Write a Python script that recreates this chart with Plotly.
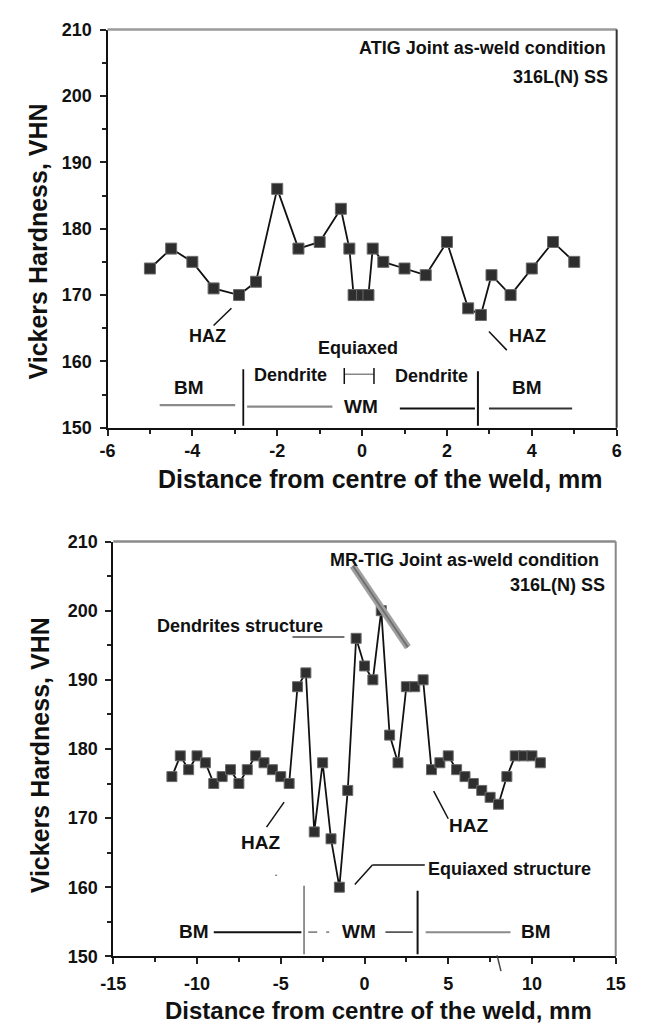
import plotly.graph_objects as go

# ---------------- data ----------------
atig_x = [-5, -4.5, -4, -3.5, -2.9, -2.5, -2, -1.5, -1, -0.5, -0.3, -0.2, 0, 0.15,
          0.25, 0.5, 1, 1.5, 2, 2.5, 2.8, 3.05, 3.5, 4, 4.5, 5]
atig_y = [174, 177, 175, 171, 170, 172, 186, 177, 178, 183, 177, 170, 170, 170,
          177, 175, 174, 173, 178, 168, 167, 173, 170, 174, 178, 175]

mr_x = [-11.5, -11, -10.5, -10, -9.5, -9, -8.5, -8, -7.5, -7, -6.5, -6, -5.5, -5, -4.5,
        -4, -3.5, -3, -2.5, -2, -1.5, -1, -0.5, 0, 0.5, 1, 1.5, 2, 2.5, 3, 3.5,
        4, 4.5, 5, 5.5, 6, 6.5, 7, 7.5, 8, 8.5, 9, 9.5, 10, 10.5]
mr_y = [176, 179, 177, 179, 178, 175, 176, 177, 175, 177, 179, 178, 177, 176, 175,
        189, 191, 168, 178, 167, 160, 174, 196, 192, 190, 200, 182, 178, 189, 189, 190,
        177, 178, 179, 177, 176, 175, 174, 173, 172, 176, 179, 179, 179, 178]

top_xticks = [-6, -4, -2, 0, 2, 4, 6]
top_xticklabels = ["-6", "-4", "-2", "0", "2", "4", "6"]
bot_xticks = [-15, -10, -5, 0, 5, 10, 15]
bot_xticklabels = ["-15", "-10", "-5", "0", "5", "10", "15"]
yticks = [150, 160, 170, 180, 190, 200, 210]
yticklabels = ["150", "160", "170", "180", "190", "200", "210"]

FONT = "Liberation Sans, Arial, sans-serif"
TXT = "#111111"

fig = go.Figure()
marker = dict(symbol="square", size=11, color="#2e2e2e", line=dict(color="#6a6a6a", width=1))
fig.add_trace(go.Scatter(x=atig_x, y=atig_y, mode="lines+markers", xaxis="x", yaxis="y",
                         line=dict(color="#111", width=1.8), marker=marker,
                         cliponaxis=False, showlegend=False))
marker2 = dict(marker, size=10)
fig.add_trace(go.Scatter(x=mr_x, y=mr_y, mode="lines+markers", xaxis="x2", yaxis="y2",
                         line=dict(color="#111", width=1.8), marker=marker2,
                         cliponaxis=False, showlegend=False))


def axis_common():
    return dict(showgrid=False, zeroline=False, showline=True, linecolor="#111", linewidth=2,
                ticks="outside", ticklen=6, tickwidth=1.5, tickcolor="#222",
                tickfont=dict(family=FONT, size=18, color=TXT, weight="bold"))


W, H = 645, 1035
xa = axis_common()
xa.update(domain=[98 / W, 626 / W], anchor="y", range=[-6, 6], tickmode="array",
          tickvals=top_xticks, ticktext=top_xticklabels,
          minor=dict(tickmode="linear", tick0=-6, dtick=1, ticks="outside", ticklen=4,
                     tickcolor="#222", showgrid=False))
ya = axis_common()
ya.update(domain=[1 - 426 / H, 1 - 20 / H], anchor="x", range=[150, 210], tickmode="array",
          tickvals=yticks, ticktext=yticklabels, ticklabelstandoff=4,
          minor=dict(tickmode="linear", tick0=150, dtick=5, ticks="outside", ticklen=4,
                     tickcolor="#222", showgrid=False))
xa2 = axis_common()
xa2.update(domain=[104 / W, 625 / W], anchor="y2", range=[-15, 15], tickmode="array",
           tickvals=bot_xticks, ticktext=bot_xticklabels, ticklabelstandoff=4,
           minor=dict(tickmode="linear", tick0=-15, dtick=2.5, ticks="outside", ticklen=4,
                      tickcolor="#222", showgrid=False))
ya2 = axis_common()
ya2.update(domain=[1 - 965 / H, 1 - 542 / H], anchor="x2", range=[150, 210], tickmode="array",
           tickvals=yticks, ticktext=yticklabels, ticklabelstandoff=4,
           minor=dict(tickmode="linear", tick0=150, dtick=5, ticks="outside", ticklen=4,
                      tickcolor="#222", showgrid=False))

shapes = []


def seg(x0, y0, x1, y1, xr, yr, color="#111", width=1.8, dash=None):
    d = dict(type="line", x0=x0, y0=y0, x1=x1, y1=y1, xref=xr, yref=yr,
             line=dict(color=color, width=width))
    if dash:
        d["line"]["dash"] = dash
    shapes.append(d)


# frame top / right
seg(0, 1, 1, 1, "x domain", "y domain", "#9a9a9a", 2.5)
seg(1, 0, 1, 1, "x domain", "y domain", "#333", 2)
seg(0, 1, 1, 1, "x2 domain", "y2 domain", "#8a8a8a", 2.5)
seg(1, 0, 1, 1, "x2 domain", "y2 domain", "#888", 2)

# ---- top plot annotation lines ----
seg(-3.08, 168.0, -3.5, 165.4, "x", "y", "#111", 1.5)
seg(2.99, 164.5, 3.41, 161.7, "x", "y", "#111", 1.5)
seg(-0.42, 158.05, 0.28, 158.05, "x", "y", "#888", 1.5)
seg(-0.42, 159.0, -0.42, 156.6, "x", "y", "#111", 1.5)
seg(0.28, 159.0, 0.28, 156.6, "x", "y", "#111", 1.5)
seg(-4.77, 153.4, -2.99, 153.4, "x", "y", "#8a8a8a", 2.2)
seg(-2.71, 153.2, -0.70, 153.2, "x", "y", "#8a8a8a", 2.2)
seg(0.89, 152.9, 2.66, 152.9, "x", "y", "#111", 1.8)
seg(2.99, 152.9, 4.95, 152.9, "x", "y", "#333", 1.8)
seg(-2.80, 158.8, -2.80, 150.3, "x", "y", "#111", 1.8)
seg(2.73, 158.5, 2.73, 150.3, "x", "y", "#111", 2)

# ---- bottom plot annotation lines ----
seg(-0.7, 206.5, 2.59, 194.7, "x2", "y2", "#a0a0a0", 7)
seg(-0.7, 206.5, 2.59, 194.7, "x2", "y2", "#707070", 2)
seg(-4.3, 196.2, -1.2, 196.2, "x2", "y2", "#444", 1.5)
seg(3.6, 163.2, 0.47, 163.2, "x2", "y2", "#111", 1.5)
seg(0.47, 163.2, -0.58, 160.4, "x2", "y2", "#111", 1.5)
seg(-5.85, 168.7, -4.8, 172.3, "x2", "y2", "#111", 1.5)
seg(4.13, 173.9, 5.0, 169.9, "x2", "y2", "#111", 1.5)
seg(-9.0, 153.5, -3.77, 153.5, "x2", "y2", "#111", 2)
seg(-3.61, 160.2, -3.61, 150.3, "x2", "y2", "#777", 1.6)
seg(-3.36, 153.5, -2.11, 153.5, "x2", "y2", "#888", 1.8, "dash")
seg(1.25, 153.5, 2.88, 153.5, "x2", "y2", "#555", 1.8)
seg(3.17, 159.5, 3.17, 150.3, "x2", "y2", "#111", 2)
seg(3.65, 153.5, 8.72, 153.5, "x2", "y2", "#8a8a8a", 2)
# small scan mark below the bottom axis
shapes.append(dict(type="line", xref="paper", yref="paper", x0=502 / W, y0=1 - 964 / H,
                   x1=506 / W, y1=1 - 980 / H, line=dict(color="#444", width=1.5)))

ann = []


def txt(x, y, s, xr, yr, size=19, xanchor="center", color=TXT, angle=0, bold=True):
    f = dict(family=FONT, size=size, color=color)
    if bold:
        f["weight"] = "bold"
    ann.append(dict(x=x, y=y, text=s, xref=xr, yref=yr, showarrow=False, xanchor=xanchor,
                    yanchor="middle", textangle=angle, font=f))


# top plot texts
txt(5.8, 207.3, "ATIG Joint as-weld condition", "x", "y", 18, "right")
txt(5.84, 202.9, "316L(N) SS", "x", "y", 18, "right")
txt(-3.64, 163.9, "HAZ", "x", "y", 18)
txt(3.91, 163.9, "HAZ", "x", "y", 18)
txt(-0.09, 162.0, "Equiaxed", "x", "y", 18)
txt(-1.68, 157.9, "Dendrite", "x", "y", 18)
txt(1.64, 157.8, "Dendrite", "x", "y", 18)
txt(-4.07, 156.1, "BM", "x", "y", 19)
txt(3.88, 156.1, "BM", "x", "y", 19)
txt(-0.02, 153.2, "WM", "x", "y", 19)

# bottom plot texts
txt(14.1, 207.4, "MR-TIG Joint as-weld condition", "x2", "y2", 18, "right")
txt(14.45, 203.7, "316L(N) SS", "x2", "y2", 18, "right")
txt(-7.46, 197.8, "Dendrites structure", "x2", "y2", 18)
txt(8.66, 162.6, "Equiaxed structure", "x2", "y2", 18)
txt(-6.24, 166.5, "HAZ", "x2", "y2", 19)
txt(6.2, 168.9, "HAZ", "x2", "y2", 19)
txt(-10.16, 153.6, "BM", "x2", "y2", 19)
txt(-0.3, 153.6, "WM", "x2", "y2", 19)
txt(10.22, 153.6, "BM", "x2", "y2", 19)
txt(-5.3, 161.8, "•", "x2", "y2", 6, color="#555", bold=False)

# axis titles
txt(26 / W, 1 - 236 / H, "Vickers Hardness, VHN", "paper", "paper", 25, angle=-90)
txt(28 / W, 1 - 760 / H, "Vickers Hardness, VHN", "paper", "paper", 25, angle=-90)
txt(381 / W, 1 - 478 / H, "Distance from centre of the weld, mm", "paper", "paper", 25)
txt(379 / W, 1 - 1020 / H, "Distance from centre of the weld, mm", "paper", "paper", 24)

fig.update_layout(width=W, height=H, margin=dict(l=0, r=0, t=0, b=0),
                  paper_bgcolor="white", plot_bgcolor="white",
                  xaxis=xa, yaxis=ya, xaxis2=xa2, yaxis2=ya2,
                  shapes=shapes, annotations=ann, showlegend=False)

fig.write_html("out.html")
